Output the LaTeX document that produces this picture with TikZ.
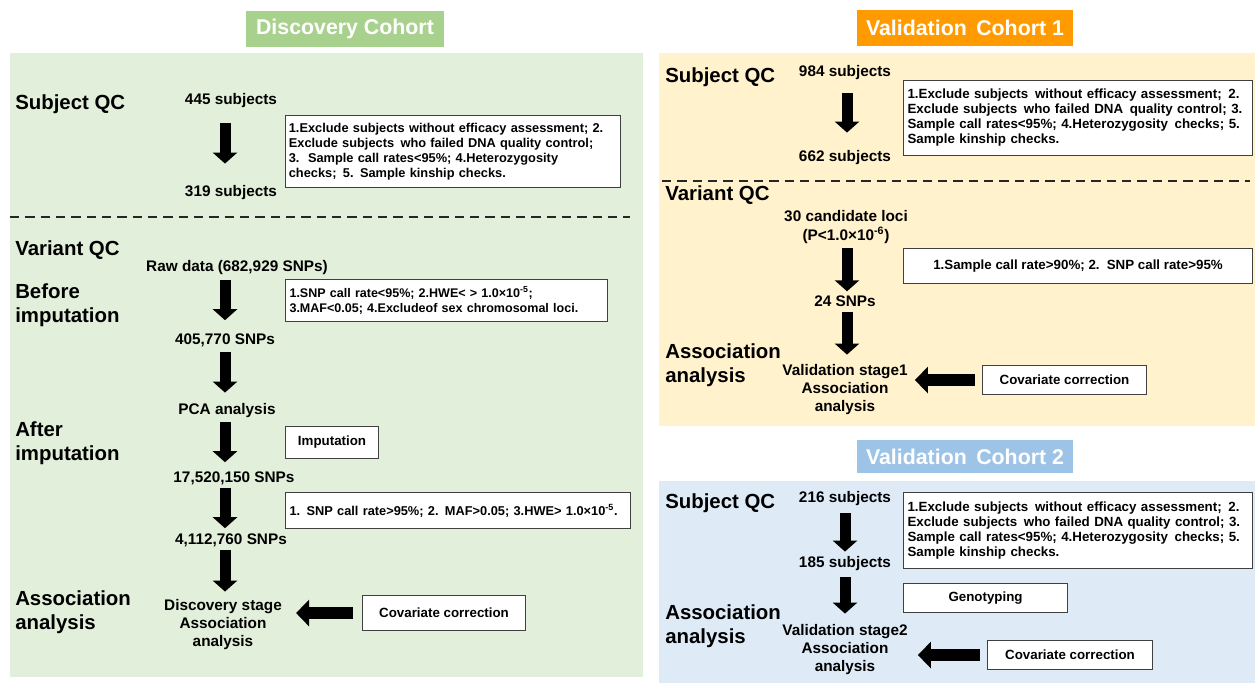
\documentclass[tikz,border=0pt]{standalone}
\usepackage{fontspec}
\setmainfont{Liberation Sans}
\usetikzlibrary{arrows.meta}
\definecolor{gpanel}{HTML}{E2EFDA}
\definecolor{gtitle}{HTML}{A9D18E}
\definecolor{opanel}{HTML}{FFF2CC}
\definecolor{otitle}{HTML}{FF9A00}
\definecolor{bpanel}{HTML}{DEEBF7}
\definecolor{btitle}{HTML}{9DC3E6}
\definecolor{bordc}{HTML}{404040}
\tikzset{
  titlebox/.style={text=white, font=\fontsize{16}{19}\selectfont\bfseries, inner sep=0pt},
  biglab/.style={font=\fontsize{15.3}{18}\selectfont\bfseries, anchor=west, align=left, inner sep=0pt},
  datlab/.style={font=\fontsize{11.5}{13.5}\selectfont\bfseries, align=center, inner sep=0pt},
  txtbox/.style={draw=bordc, line width=0.8pt, fill=white, font=\fontsize{10}{11.25}\selectfont\bfseries, inner xsep=3pt, inner ysep=0pt, anchor=north west, align=left},
  cenbox/.style={draw=bordc, line width=0.8pt, fill=white, font=\fontsize{10}{12}\selectfont\bfseries, inner sep=0pt, anchor=north west, align=center},
  darr/.style={line width=8.25pt, -{Triangle[width=18pt,length=8.25pt]}},
  larr/.style={line width=9pt, -{Triangle[width=19.5pt,length=9.75pt]}},
  dline/.style={line width=1.5pt, dash pattern=on 7pt off 4.5pt, black!85}
}
\begin{document}
\begin{tikzpicture}[x=0.75pt,y=-0.75pt]
\useasboundingbox (0,0) rectangle (1255,683);
% panels
\fill[gpanel] (10,53) rectangle (643,677);
\fill[opanel] (659,53) rectangle (1255,426);
\fill[bpanel] (659,481) rectangle (1255,683);
% titles
\node[titlebox, fill=gtitle, minimum width=148.5pt, minimum height=27pt] (t1) at (345,29) {Discovery Cohort};
\node[titlebox, fill=otitle, minimum width=162pt, minimum height=27pt] (t2) at (965,28) {Validation\, Cohort 1};
\node[titlebox, fill=btitle, minimum width=162pt, minimum height=24.75pt] (t3) at (965,456.5) {Validation\, Cohort 2};
% column coordinates
\coordinate (dc) at (225,0);
\coordinate (vc1) at (847,0);
\coordinate (vc2) at (845,0);

% ===== Discovery =====
\node[biglab] (dsq) at (15,104) {Subject QC};
\node[datlab] (n445) at (231,101) {445 subjects};
\node[datlab] (n319) at (231,193) {319 subjects};
\node[txtbox, font=\fontsize{9.6}{11.25}\selectfont\bfseries, inner xsep=2.5pt, text width=246.25pt, minimum height=54pt] (db1) at (285,115)
  {1.Exclude subjects without efficacy assessment; 2.\\Exclude subjects\, who failed DNA quality control;\\3.\, Sample call rates<95\%; 4.Heterozygosity\\checks;\, 5. Sample kinship checks.};
\draw[dline] (10,217) -- (630,217);
\node[biglab] (dvq) at (15,250) {Variant QC};
\node[datlab] (raw) at (237,268) {Raw data (682,929 SNPs)};
\node[biglab] (dbi) at (15,305) {Before\\imputation};
\node[txtbox, font=\fontsize{9.4}{11}\selectfont\bfseries, text width=235.5pt, minimum height=31.5pt] (db2) at (285,279)
  {1.SNP call rate<95\%; 2.HWE< > 1.0×10\textsuperscript{-5};\\3.MAF<0.05; 4.Excludeof sex chromosomal loci.};
\node[datlab] (n405) at (225,340) {405,770 SNPs};
\node[datlab] (pca) at (227,411) {PCA analysis};
\node[biglab] (dai) at (15,443) {After\\imputation};
\node[cenbox, minimum width=69.75pt, minimum height=24pt] (imp) at (285,426) {Imputation};
\node[datlab] (n17) at (234,478) {17,520,150 SNPs};
\node[txtbox, font=\fontsize{9.6}{11}\selectfont\bfseries, text width=252.75pt, minimum height=27pt] (db3) at (285,492)
  {1. SNP call rate>95\%; 2. MAF>0.05; 3.HWE> 1.0×10\textsuperscript{-5}.};
\node[datlab] (n4) at (231,540) {4,112,760 SNPs};
\node[biglab] (daa) at (15,612) {Association\\analysis};
\node[datlab] (disc) at (223,625) {Discovery stage\\Association\\analysis};
\node[cenbox, minimum width=122.25pt, minimum height=26.25pt] (dcov) at (362,595) {Covariate correction};

\draw[darr, shorten <=11.25pt, shorten >=16.5pt] (n445.south -| dc) -- (n319.north -| dc);
\draw[darr, shorten <=3.75pt, shorten >=9.75pt] (raw.south -| dc) -- (n405.north -| dc);
\draw[darr, shorten <=3.75pt, shorten >=8.25pt] (n405.south -| dc) -- (pca.north -| dc);
\draw[darr, shorten <=3pt, shorten >=6.75pt] (pca.south -| dc) -- (n17.north -| dc);
\draw[darr, shorten <=2.25pt, shorten >=3.75pt] (n17.south -| dc) -- (n4.north -| dc);
\draw[darr, shorten <=2.25pt, shorten >=6pt] (n4.south -| dc) -- (disc.north -| dc);
\draw[larr, shorten <=6.75pt, shorten >=10.5pt] (dcov.west) -- (dcov.west -| disc.east);

% ===== Validation 1 =====
\node[biglab] (v1sq) at (665,77) {Subject QC};
\node[datlab] (n984) at (845,73) {984 subjects};
\node[datlab] (n662) at (845,158) {662 subjects};
\node[txtbox, text width=255.75pt, minimum height=56.25pt] (v1b1) at (903,80)
  {1.Exclude subjects\, without efficacy assessment;\, 2.\\Exclude subjects\, who failed DNA\, quality control; 3.\\Sample call rates<95\%; 4.Heterozygosity\, checks; 5.\\Sample kinship checks.};
\draw[dline] (662,181) -- (1250,181);
\node[biglab] (v1vq) at (665,195) {Variant QC};
\node[datlab, font=\fontsize{11.5}{14.25}\selectfont\bfseries] (loci) at (846,227) {30 candidate loci\\(P<1.0×10\textsuperscript{-6})};
\node[cenbox, minimum width=261.75pt, minimum height=26.25pt] (v1b2) at (903,248) {1.Sample call rate>90\%; 2.\, SNP call rate>95\%};
\node[datlab] (n24) at (845,301) {24 SNPs};
\node[biglab] (v1aa) at (665,365) {Association\\analysis};
\node[datlab] (v1st) at (845,390) {Validation stage1\\Association\\analysis};
\node[cenbox, minimum width=123pt, minimum height=21.75pt] (v1cov) at (982,365) {Covariate correction};

\draw[darr, shorten <=9.75pt, shorten >=13.5pt] (n984.south -| vc1) -- (n662.north -| vc1);
\draw[darr, shorten <=3pt, shorten >=3pt] (loci.south -| vc1) -- (n24.north -| vc1);
\draw[darr, shorten <=3.75pt, shorten >=7.5pt] (n24.south -| vc1) -- (v1st.north -| vc1);
\draw[larr, shorten <=5.25pt, shorten >=5.25pt] (v1cov.west) -- (v1cov.west -| v1st.east);

% ===== Validation 2 =====
\node[biglab] (v2sq) at (665,503) {Subject QC};
\node[datlab] (n216) at (845,499) {216 subjects};
\node[datlab] (n185) at (845,564) {185 subjects};
\node[txtbox, text width=255.75pt, minimum height=57pt] (v2b1) at (903,492)
  {1.Exclude subjects\, without efficacy assessment;\, 2.\\Exclude subjects\, who failed DNA quality control; 3.\\Sample call rates<95\%; 4.Heterozygosity\, checks; 5.\\Sample kinship checks.};
\node[cenbox, minimum width=123pt, minimum height=21.75pt] (geno) at (903,583) {Genotyping};
\node[biglab] (v2aa) at (665,626) {Association\\analysis};
\node[datlab] (v2st) at (845,650) {Validation stage2\\Association\\analysis};
\node[cenbox, minimum width=123.75pt, minimum height=21.75pt] (v2cov) at (987,640) {Covariate correction};

\draw[darr, shorten <=5.25pt, shorten >=3.75pt] (n216.south -| vc2) -- (n185.north -| vc2);
\draw[darr, shorten <=4.5pt, shorten >=8.25pt] (n185.south -| vc2) -- (v2st.north -| vc2);
\draw[larr, shorten <=5.25pt, shorten >=7.5pt] (v2cov.west) -- (v2cov.west -| v2st.east);
\end{tikzpicture}
\end{document}
